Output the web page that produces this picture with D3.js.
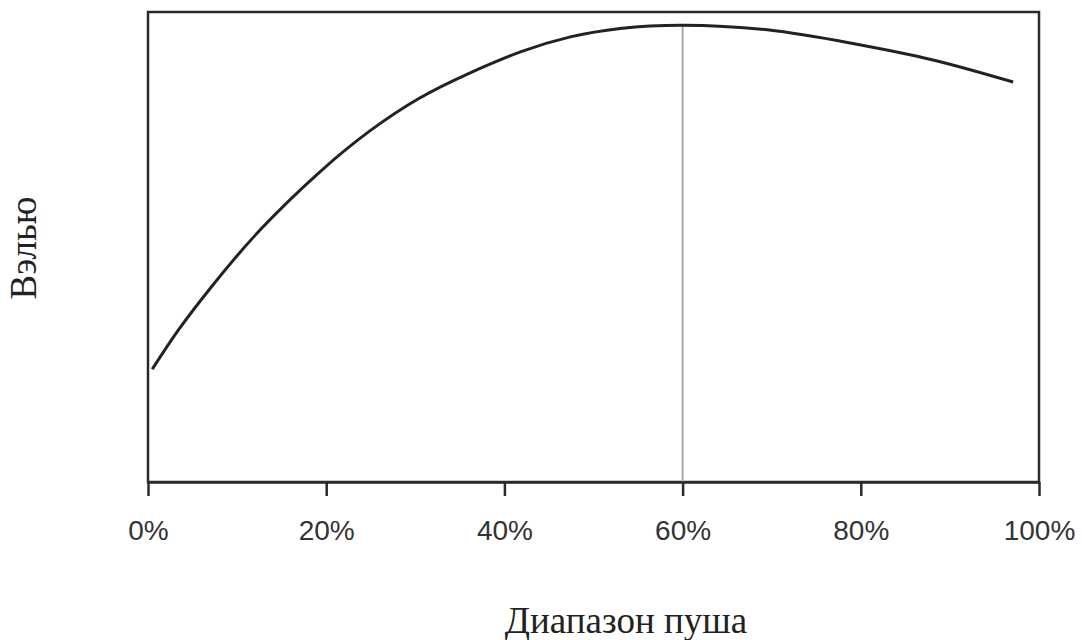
<!DOCTYPE html>
<html>
<head>
<meta charset="utf-8">
<script src="https://cdn.jsdelivr.net/npm/d3@7"></script>
<style>
  body { margin: 0; background: #fff; }
</style>
</head>
<body>
<div id="chart"></div>
<script>
// Data: push range (%) and value (0-100, no y ticks shown)
var pushRange = [0.48, 3.4, 7.15, 12.57, 19.3, 24.9, 30.5, 36.1, 41.8, 47.4, 53, 60, 69.5, 78.8, 88.1, 97.1];
var valueSeries = [24.0, 32.3, 41.6, 53.6, 66.0, 74.7, 81.7, 87.0, 91.5, 94.7, 96.5, 97.2, 96.2, 93.4, 89.8, 85.1];
var xTicks = [0, 20, 40, 60, 80, 100];
var peakAt = 60;
var xLabel = "Диапазон пуша";
var yLabel = "Вэлью";

// Define SVG area dimensions
var svgWidth = 1082;
var svgHeight = 640;

var chartMargin = {
  top: 12,
  right: 43,
  bottom: 158,
  left: 148
};

var chartWidth = svgWidth - chartMargin.left - chartMargin.right;
var chartHeight = svgHeight - chartMargin.top - chartMargin.bottom;

var svg = d3.select("#chart")
  .append("svg")
  .attr("width", svgWidth)
  .attr("height", svgHeight);

var chartGroup = svg.append("g")
  .attr("transform", `translate(${chartMargin.left}, ${chartMargin.top})`);

var xScale = d3.scaleLinear()
  .domain([0, 100])
  .range([0, chartWidth]);

var yScale = d3.scaleLinear()
  .domain([0, 100])
  .range([chartHeight, 0]);

// Frame around plot
chartGroup.append("rect")
  .attr("x", 0)
  .attr("y", 0)
  .attr("width", chartWidth)
  .attr("height", chartHeight)
  .attr("fill", "none")
  .attr("stroke", "#2b2b2b")
  .attr("stroke-width", 2.5);

// Vertical marker at the peak
chartGroup.append("line")
  .attr("x1", xScale(peakAt))
  .attr("x2", xScale(peakAt))
  .attr("y1", yScale(d3.max(valueSeries)))
  .attr("y2", chartHeight)
  .attr("stroke", "#a9a9ab")
  .attr("stroke-width", 2);

// Bottom axis
var bottomAxis = d3.axisBottom(xScale)
  .tickValues(xTicks)
  .tickFormat(d => d + "%")
  .tickSize(14)
  .tickSizeOuter(0)
  .tickPadding(24);

var xAxisGroup = chartGroup.append("g")
  .attr("transform", `translate(0, ${chartHeight})`)
  .call(bottomAxis);

xAxisGroup.select(".domain")
  .attr("stroke", "#2b2b2b")
  .attr("stroke-width", 2.5);

xAxisGroup.selectAll(".tick line")
  .attr("stroke", "#2b2b2b")
  .attr("stroke-width", 2.5);

xAxisGroup.selectAll(".tick text")
  .attr("fill", "#333")
  .style("font-family", "'Liberation Sans', Arial, sans-serif")
  .style("font-size", "28px");

// Curve
var points = pushRange.map((d, i) => [d, valueSeries[i]]);

var line = d3.line()
  .x(d => xScale(d[0]))
  .y(d => yScale(d[1]))
  .curve(d3.curveNatural);

chartGroup.append("path")
  .datum(points)
  .attr("d", line)
  .attr("fill", "none")
  .attr("stroke", "#222")
  .attr("stroke-width", 3);

// Axis titles
svg.append("text")
  .attr("x", 626)
  .attr("y", 633)
  .attr("text-anchor", "middle")
  .attr("fill", "#222")
  .style("font-family", "'Liberation Serif', 'Times New Roman', serif")
  .style("font-size", "37px")
  .text(xLabel);

svg.append("text")
  .attr("transform", "translate(36, 248) rotate(-90)")
  .attr("text-anchor", "middle")
  .attr("fill", "#222")
  .style("font-family", "'Liberation Serif', 'Times New Roman', serif")
  .style("font-size", "37px")
  .text(yLabel);
</script>
</body>
</html>
